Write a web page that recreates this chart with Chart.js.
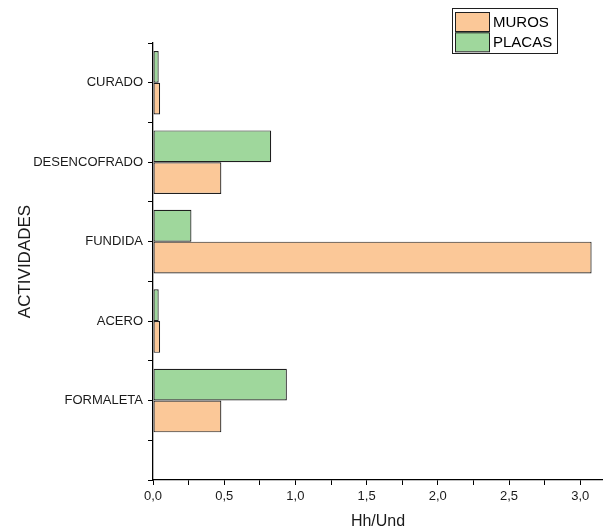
<!DOCTYPE html>
<html>
<head>
<meta charset="utf-8">
<script src="https://cdn.jsdelivr.net/npm/chart.js@4.4.1/dist/chart.umd.min.js"></script>
<style>
  html, body { margin: 0; padding: 0; background: #fff; }
</style>
</head>
<body>
<canvas id="chart" width="603" height="531"></canvas>
<script>
// activities, bottom to top as they sit on the axis
const categories = ["FORMALETA", "ACERO", "FUNDIDA", "DESENCOFRADO", "CURADO"];
const muros  = [0.48, 0.05, 3.08, 0.48, 0.05];
const placas = [0.94, 0.04, 0.27, 0.83, 0.04];
const xMin = 0, xMax = 3.16;

const FONT = '"Liberation Sans", Arial, sans-serif';
const COLORS = {
  muros: "#fbc898",
  placas: "#9fd79c",
  edge: "#1f1f1f",
  text: "#1a1a1a",
};

// category index -> position on the linear y axis (1 = bottom activity)
const toPoints = vals => vals.map((v, i) => ({ x: v, y: i + 1 }));

// ---------- framed legend, Origin style ---------------------------------
const framedLegend = {
  id: "framedLegend",
  afterDraw(chart) {
    const ctx = chart.ctx;
    const items = chart.data.datasets.slice().reverse();   // MUROS first
    ctx.save();
    ctx.strokeStyle = COLORS.edge;
    ctx.lineWidth = 1;
    ctx.strokeRect(452.5, 8.5, 105, 45);
    items.forEach((ds, i) => {
      const y = 12 + i * 20.3;
      ctx.fillStyle = ds.backgroundColor;
      ctx.fillRect(455, y, 34, 19);
      ctx.strokeRect(455.5, y + 0.5, 34, 19);
      ctx.fillStyle = "#000";
      ctx.font = "15px " + FONT;
      ctx.textBaseline = "middle";
      ctx.fillText(ds.label, 493, y + 10.5);
    });
    ctx.restore();
  },
};

new Chart(document.getElementById("chart"), {
  type: "bar",
  data: {
    datasets: [
      // first dataset sits on top within each group
      {
        label: "PLACAS",
        data: toPoints(placas),
        backgroundColor: COLORS.placas,
        borderColor: COLORS.edge,
        borderWidth: 1.2,
        borderSkipped: false,
      },
      {
        label: "MUROS",
        data: toPoints(muros),
        backgroundColor: COLORS.muros,
        borderColor: COLORS.edge,
        borderWidth: 1.2,
        borderSkipped: false,
      },
    ],
  },
  options: {
    indexAxis: "y",
    responsive: false,
    animation: false,
    // the bar ruler also counts the half-step ticks, hence > 1
    categoryPercentage: 1.6,
    barPercentage: 1.0,
    layout: { padding: { top: 43, right: 0, left: 0, bottom: 0 } },
    plugins: {
      legend: { display: false },
      tooltip: { enabled: false },
    },
    scales: {
      x: {
        type: "linear",
        min: xMin,
        max: xMax,
        border: { display: true, color: "#000", width: 1.3 },
        grid: { drawOnChartArea: false, drawTicks: true, tickLength: 5, color: "#000", lineWidth: 1 },
        ticks: {
          stepSize: 0.25,
          includeBounds: false,
          autoSkip: false,
          maxRotation: 0,
          padding: 4,
          color: COLORS.text,
          font: { family: FONT, size: 13 },
          callback: v => (Math.abs(v * 2 - Math.round(v * 2)) < 1e-6 ? v.toFixed(1).replace(".", ",") : ""),
        },
        title: {
          display: true,
          text: "Hh/Und",
          color: COLORS.text,
          font: { family: FONT, size: 16 },
          padding: { top: 0, bottom: 0 },
        },
        afterFit: s => { s.height = 51; },
      },
      y: {
        type: "linear",
        offset: false,
        min: 0,
        max: categories.length + 0.5,
        border: { display: true, color: "#000", width: 1.3 },
        grid: { offset: false, drawOnChartArea: false, drawTicks: true, tickLength: 5, color: "#000", lineWidth: 1 },
        ticks: {
          stepSize: 0.5,
          autoSkip: false,
          padding: 5,
          color: COLORS.text,
          font: { family: FONT, size: 13 },
          callback: v => (Number.isInteger(v) && v >= 1 ? categories[v - 1] : ""),
        },
        title: {
          display: true,
          text: "ACTIVIDADES",
          color: COLORS.text,
          font: { family: FONT, size: 17 },
          padding: { top: 15, bottom: 0 },
        },
        afterFit: s => { s.width = 153; },
      },
    },
  },
  plugins: [framedLegend],
});
</script>
</body>
</html>
